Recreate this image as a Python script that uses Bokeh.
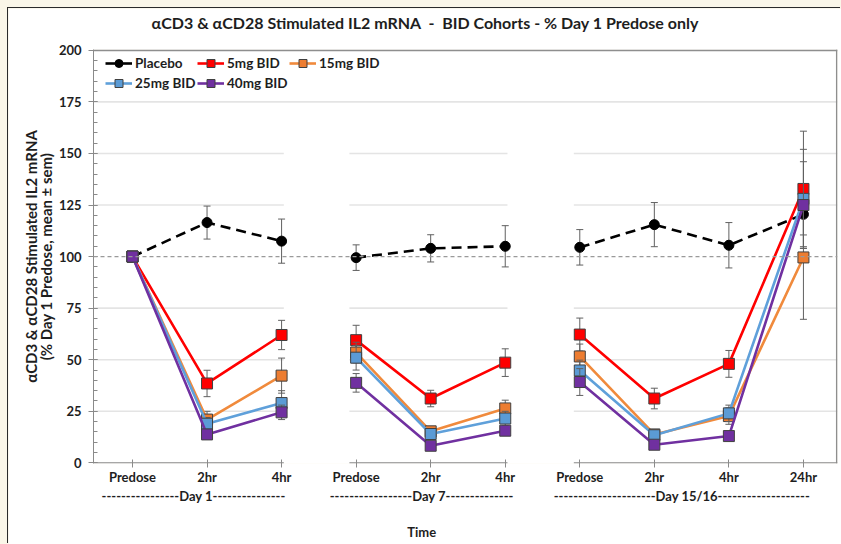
import math
from bokeh.plotting import figure
from bokeh.models import (Range1d, FixedTicker, Span, Legend, LegendItem, LinearAxis,
                          ColumnDataSource, GlobalInlineStyleSheet)
from bokeh.embed import file_html
from bokeh.resources import INLINE

# ---------------- data ----------------
timepoints = ["Predose", "2hr", "4hr", "Predose", "2hr", "4hr",
              "Predose", "2hr", "4hr", "24hr"]
x_index = list(range(10))
groups = [[0, 1, 2], [3, 4, 5], [6, 7, 8, 9]]
day_labels = ["----------------Day 1---------------",
              "-----------------Day 7--------------",
              "---------------------Day 15/16-------------------"]
day_centers = [0.82, 3.88, 7.37]
time_center = [3.88]
title_center = [3.93]

series_names = ["Placebo", "5mg BID", "15mg BID", "25mg BID", "40mg BID"]
placebo = [100, 116.5, 107.5, 99.5, 104.0, 105.0, 104.5, 115.5, 105.5, 120.5]
placebo_sem = [0, 8.0, 10.7, 6.2, 6.6, 10.0, 8.6, 10.7, 11.0, 10.0]
mg5 = [100, 38.5, 62.0, 59.5, 31.2, 48.6, 62.2, 31.2, 48.0, 132.8]
mg5_sem = [0, 6.4, 7.1, 7.2, 4.0, 6.7, 8.0, 5.0, 6.5, 28.0]
mg15 = [100, 21.0, 42.3, 53.5, 15.3, 26.4, 51.6, 13.8, 22.7, 99.6]
mg15_sem = [0, 4.0, 8.5, 5.0, 2.0, 4.0, 6.0, 1.5, 4.0, 30.0]
mg25 = [100, 19.0, 29.0, 51.0, 14.0, 21.5, 44.8, 13.4, 24.0, 128.0]
mg25_sem = [0, 3.0, 6.0, 6.0, 2.0, 3.5, 5.0, 1.5, 4.0, 24.0]
mg40 = [100, 13.8, 24.5, 38.8, 8.3, 15.6, 39.2, 8.8, 13.0, 125.0]
mg40_sem = [0, 2.0, 3.5, 4.5, 1.5, 2.0, 6.5, 1.5, 1.5, 21.0]

values = [placebo, mg5, mg15, mg25, mg40]
sems = [placebo_sem, mg5_sem, mg15_sem, mg25_sem, mg40_sem]

y_ticks = [0, 25, 50, 75, 100, 125, 150, 175, 200]

TITLE = ("\u03b1CD3 & \u03b1CD28 Stimulated IL2 mRNA \u00a0-\u00a0 BID Cohorts - "
         "% Day 1 Predose only")
Y_LABEL = "\u03b1CD3 & \u03b1CD28 Stimulated IL2 mRNA\n(% Day 1 Predose, mean \u00b1 sem)"

# ---------------- styling ----------------
FONT = "Lato"
TXT = "#1e1e1e"
line_colors = ["black", "#FF0000", "#F08A3C", "#5FA0DA", "#7030A0"]
fill_colors = ["black", "#FF0000", "#ED7D31", "#5B9BD5", "#7030A0"]
markers = ["circle", "square", "square", "square", "square"]

X0, X1 = -0.523, 9.457
Y0, Y1 = -0.3, 200.4
seg_spans = [(X0, 2.03), (2.91, 5.03), (5.92, X1)]

p = figure(width=833, height=536, x_range=Range1d(X0, X1), y_range=Range1d(Y0, Y1),
           output_backend="svg", toolbar_location=None, title=None,
           min_border_left=85, min_border_right=4, min_border_top=41, min_border_bottom=81)
p.stylesheets = [GlobalInlineStyleSheet(
    css="html, body {background-color:#FAF6E8 !important; overflow:hidden !important;}")]
p.styles = {"margin-left": "8px", "margin-top": "8px",
            "box-shadow": "-1px -1px 0 0 #2a2a2a"}
p.background_fill_color = "white"
p.border_fill_color = "white"
p.outline_line_color = None
p.xgrid.visible = False
p.ygrid.visible = False

# broken gridlines
gx0, gx1, gy = [], [], []
for yv in [25, 50, 75, 125, 150]:
    for a, b in seg_spans:
        gx0.append(a); gx1.append(b); gy.append(yv)
gx0.append(X0); gx1.append(X1); gy.append(175)
p.segment(x0=gx0, y0=gy, x1=gx1, y1=gy, line_color="#E4E4E4", line_width=1.6)

# frame top / right border
p.segment(x0=[X0], y0=[200], x1=[X1], y1=[200], line_color="#8E8E8E", line_width=1.6)
p.segment(x0=[X1 - 0.01], y0=[Y0], x1=[X1 - 0.01], y1=[Y1], line_color="#8E8E8E", line_width=1.6)

# broken x axis line
p.segment(x0=[a for a, b in seg_spans], y0=[0, 0, 0], x1=[b for a, b in seg_spans],
          y1=[0, 0, 0], line_color="#8A8A8A", line_width=1.3)

p.add_layout(Span(location=100, dimension="width", line_color="#9A9A9A",
                  line_dash="4 3", line_width=1.2))

legend_items = []
for i, (vals, sem) in enumerate(zip(values, sems)):
    lc, fc, mk = line_colors[i], fill_colors[i], markers[i]
    ex = [x_index[k] for k in range(10) if sem[k] > 0]
    lo = [vals[k] - sem[k] for k in range(10) if sem[k] > 0]
    hi = [vals[k] + sem[k] for k in range(10) if sem[k] > 0]
    p.segment(x0=ex, y0=lo, x1=ex, y1=hi, line_color="#606060", line_width=1)
    p.scatter(x=ex + ex, y=lo + hi, marker="dash", size=7, line_color="#606060", line_width=1)
    for g in groups:
        gxv = [x_index[k] for k in g]
        gyv = [vals[k] for k in g]
        if i == 0:
            p.line(gxv, gyv, line_color=lc, line_width=2.6, line_dash="10 6")
        else:
            p.line(gxv, gyv, line_color=lc, line_width=2.6)
    if mk == "circle":
        p.scatter(x_index, vals, marker="circle", size=10, fill_color=fc, line_color="black")
    else:
        p.scatter(x_index, vals, marker="square", size=11, fill_color=fc,
                  line_color="#404040", line_width=1)
    nan_src = ColumnDataSource(dict(x=[math.nan], y=[math.nan]))
    lr = p.line("x", "y", source=nan_src, line_color=lc, line_width=2.6)
    if mk == "circle":
        sr = p.scatter("x", "y", source=nan_src, marker="circle", fill_color=fc, line_color="black")
    else:
        sr = p.scatter("x", "y", source=nan_src, marker="square", fill_color=fc,
                       line_color="#404040", line_width=1)
    legend_items.append(LegendItem(label=series_names[i], renderers=[lr, sr]))

legend = Legend(items=legend_items, orientation="horizontal", ncols=3,
                location=(12, 370), margin=0, padding=0,
                glyph_width=27, glyph_height=20, label_height=20, label_width=62,
                label_standoff=3, spacing=0,
                border_line_color=None, background_fill_alpha=0,
                label_text_font=FONT, label_text_font_style="bold",
                label_text_font_size="13.5px", label_text_color=TXT)
p.add_layout(legend)

# axes
xa = p.xaxis[0]
xa.ticker = FixedTicker(ticks=x_index)
xa.major_label_overrides = {k: timepoints[k] for k in x_index}
xa.axis_line_color = None
xa.major_tick_line_color = "#8A8A8A"
xa.major_tick_in = 4
xa.major_tick_out = 4
xa.minor_tick_line_color = None
xa.major_label_standoff = 1
xa.major_label_text_font = FONT
xa.major_label_text_font_style = "bold"
xa.major_label_text_font_size = "13px"
xa.major_label_text_color = TXT

def text_axis(ticks, labels, standoff, side="below", size="13px"):
    ax = LinearAxis(ticker=FixedTicker(ticks=ticks),
                    major_label_overrides={t: s for t, s in zip(ticks, labels)},
                    axis_line_color=None, major_tick_line_color=None,
                    minor_tick_line_color=None, major_tick_in=0, major_tick_out=0,
                    minor_tick_in=0, minor_tick_out=0,
                    major_label_standoff=standoff,
                    major_label_text_font=FONT, major_label_text_font_style="bold",
                    major_label_text_font_size=size, major_label_text_color=TXT)
    p.add_layout(ax, side)
    return ax

text_axis(day_centers, day_labels, 0)
text_axis(time_center, ["Time"], 17)
text_axis(title_center, [TITLE], 18, side="above", size="16px")

ya = p.yaxis[0]
ya.ticker = FixedTicker(ticks=y_ticks, minor_ticks=list(range(0, 201, 5)))
ya.axis_line_color = "#8A8A8A"
ya.major_tick_line_color = "#8A8A8A"
ya.minor_tick_line_color = "#8A8A8A"
ya.major_tick_in = 4
ya.major_tick_out = 5
ya.minor_tick_in = 4
ya.minor_tick_out = 0
ya.major_label_standoff = 7
ya.major_label_text_font = FONT
ya.major_label_text_font_style = "bold"
ya.major_label_text_font_size = "13px"
ya.major_label_text_color = TXT
ya.axis_label = Y_LABEL
ya.axis_label_text_font = FONT
ya.axis_label_text_font_style = "bold"
ya.axis_label_text_font_size = "15px"
ya.axis_label_text_line_height = 0.8
ya.axis_label_text_color = TXT
ya.axis_label_standoff = 1

open("out.html", "w").write(file_html(p, INLINE))
